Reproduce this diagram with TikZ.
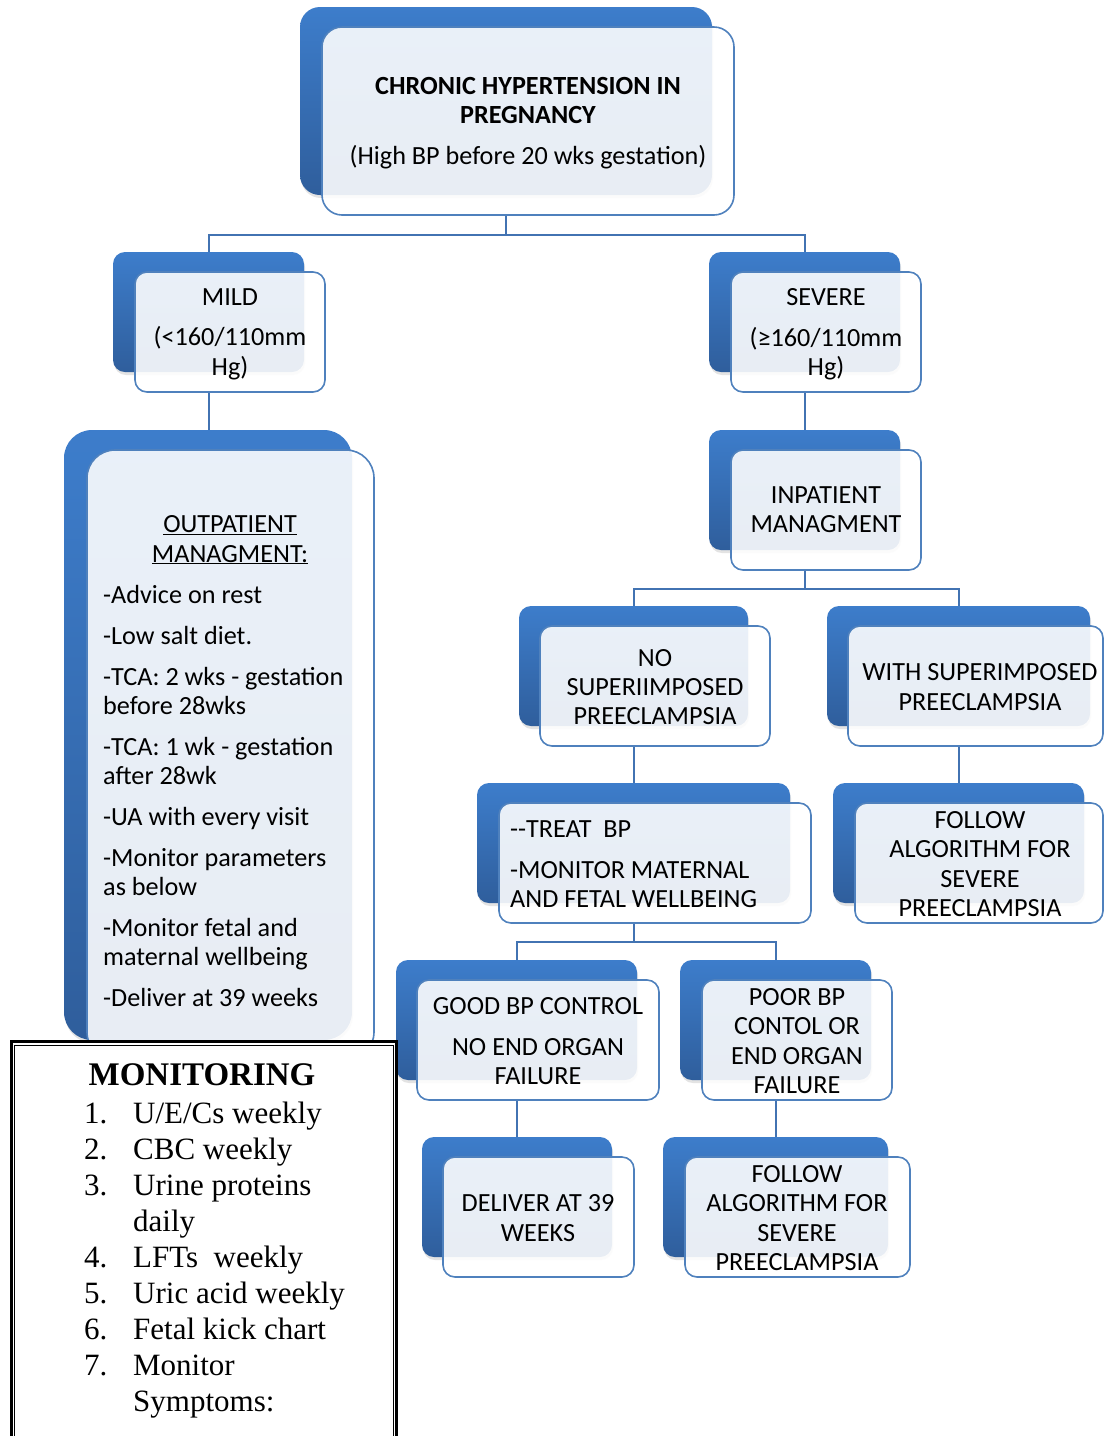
\documentclass[tikz,border=0pt]{standalone}
\usepackage{fontspec}
\setmainfont{Carlito}
\newfontfamily\monfont{Liberation Serif}
\usetikzlibrary{shadows,calc}
\definecolor{bluetop}{HTML}{3D7DCB}
\definecolor{bluebot}{HTML}{2F5E9C}
\definecolor{edgeblue}{HTML}{4F81BD}
\definecolor{linkblue}{HTML}{4273B2}
\pgfdeclarelayer{bg}
\pgfsetlayers{bg,main}
\def\rad{12}
\tikzset{
  backbox/.style={rectangle, rounded corners=\rad pt, top color=bluetop, bottom color=bluebot, draw=none, inner sep=0pt,
    drop shadow={opacity=0.22, shadow xshift=1pt, shadow yshift=-3pt}},
  frontbox/.style={rectangle, rounded corners=\rad pt, draw=edgeblue, line width=1.6pt, fill=white, fill opacity=0.89, inner sep=0pt},
  txt/.style={font=\fontsize{26.2}{29.3}\selectfont, align=center, inner sep=0pt, text=black},
  conn/.style={draw=linkblue, line width=2pt},
}
\newcommand\accbox[9]{%
  \pgfmathsetmacro\bcx{(#2+#4)/2}\pgfmathsetmacro\bcy{(#3+#5)/2}%
  \pgfmathsetmacro\bw{#4-#2}\pgfmathsetmacro\bh{#5-#3}%
  \pgfmathsetmacro\fcx{(#6+#8)/2}\pgfmathsetmacro\fcy{(#7+#9)/2}%
  \pgfmathsetmacro\fw{#8-#6}\pgfmathsetmacro\fh{#9-#7}%
  \node[backbox, minimum width=\bw pt, minimum height=\bh pt] (#1b) at (\bcx,\bcy) {};
  \node[frontbox, minimum width=\fw pt, minimum height=\fh pt] (#1) at (\fcx,\fcy) {};
}
\begin{document}
\begin{tikzpicture}[x=1pt,y=-1pt]
\useasboundingbox (0,0) rectangle (1104,1436);
\clip (0,0) rectangle (1104,1436);

% boxes
\def\rad{20}
\accbox{top}{300}{7}{712}{195}{322}{27}{734}{215}
\def\rad{12}
\accbox{mild}{113}{252}{304}{372}{135}{272}{325}{392}
\accbox{sev}{709}{252}{900}{372}{731}{272}{921}{392}
\def\rad{28}
\accbox{out}{64}{430}{352}{1040}{87}{450}{374}{1060}
\def\rad{12}
\accbox{inp}{709}{430}{900}{550}{731}{450}{921}{570}
\accbox{nos}{519}{606}{748}{726}{540}{626}{770}{746}
\accbox{wit}{827}{606}{1090}{726}{848}{626}{1103}{746}
\accbox{tre}{477}{783}{790}{903}{499}{803}{811}{923}
\accbox{fo1}{833}{783}{1084}{903}{855}{803}{1103}{923}
\accbox{goo}{396}{960}{637}{1080}{417}{980}{659}{1100}
\accbox{poo}{680}{960}{871}{1080}{702}{980}{892}{1100}
\accbox{del}{422}{1137}{612}{1257}{443}{1157}{634}{1277}
\accbox{fo2}{663}{1137}{888}{1257}{685}{1157}{910}{1277}

% texts
\node[txt] (topt) at (528,123) {\textbf{CHRONIC HYPERTENSION IN}\\\textbf{PREGNANCY}\\[11.5pt](High BP before 20 wks gestation)};
\node[txt] (mildt) at (230,334) {MILD\\[11.5pt](<160/110mm\\Hg)};
\node[txt] (sevt) at (826,334) {SEVERE\\[11.5pt](≥160/110mm\\Hg)};
\node[txt] (outh) at (230,540) {\underline{OUTPATIENT}\\\underline{MANAGMENT:}};
\node[txt, align=left, anchor=west] (outl) at (103,796) {-Advice on rest\\[11.5pt]-Low salt diet.\\[11.5pt]-TCA: 2 wks - gestation\\before 28wks\\[11.5pt]-TCA: 1 wk - gestation\\after 28wk\\[11.5pt]-UA with every visit\\[11.5pt]-Monitor parameters\\as below\\[11.5pt]-Monitor fetal and\\maternal wellbeing\\[11.5pt]-Deliver at 39 weeks};
\node[txt] (inpt) at (826,510) {INPATIENT\\MANAGMENT};
\node[txt] (nost) at (655,687) {NO\\SUPERIIMPOSED\\PREECLAMPSIA};
\node[txt] (witt) at (980,687) {WITH SUPERIMPOSED\\PREECLAMPSIA};
\node[txt, align=left, anchor=west] (tret) at (510,864) {-{}-TREAT\ \ BP\\[11.5pt]-MONITOR MATERNAL\\AND FETAL WELLBEING};
\node[txt] (fo1t) at (980,864) {FOLLOW\\ALGORITHM FOR\\SEVERE\\PREECLAMPSIA};
\node[txt] (goot) at (538,1041) {GOOD BP CONTROL\\[11.5pt]NO END ORGAN\\FAILURE};
\node[txt] (poot) at (797,1041) {POOR BP\\CONTOL OR\\END ORGAN\\FAILURE};
\node[txt] (delt) at (538,1218) {DELIVER AT 39\\WEEKS};
\node[txt] (fo2t) at (797,1218) {FOLLOW\\ALGORITHM FOR\\SEVERE\\PREECLAMPSIA};

% connectors (behind the boxes)
\begin{pgfonlayer}{bg}
\fill[white] (0,0) rectangle (1104,1436);
\coordinate (j1) at ($(topb.south |- top.south)+(0,19)$);
\draw[conn] (topb.south |- top.south) -- (j1) -| (mildb.north);
\draw[conn] (j1) -| (sevb.north);
\draw[conn] (mildb.south |- mild.south) -- (mildb.south |- outb.north);
\draw[conn] (sevb.south |- sev.south) -- (inpb.north);
\coordinate (j2) at ($(inpb.south |- inp.south)+(0,18)$);
\draw[conn] (inpb.south |- inp.south) -- (j2) -| (nosb.north);
\draw[conn] (j2) -| (witb.north);
\draw[conn] (nosb.south |- nos.south) -- (treb.north);
\draw[conn] (witb.south |- wit.south) -- (fo1b.north);
\coordinate (j3) at ($(treb.south |- tre.south)+(0,18)$);
\draw[conn] (treb.south |- tre.south) -- (j3) -| (goob.north);
\draw[conn] (j3) -| (poob.north);
\draw[conn] (goob.south |- goo.south) -- (goob.south |- delb.north);
\draw[conn] (poob.south |- poo.south) -- (fo2b.north);
\end{pgfonlayer}

% monitoring box
\node[draw=black, fill=white, line width=3pt, minimum width=385pt, minimum height=460pt, inner sep=0pt] (mon) at (204,1271.5) {};
\draw[line width=1.1pt] ($(mon.north west)+(4.5,5.5)$) rectangle ($(mon.south east)+(-4.5,-5.5)$);
\node[font=\monfont\bfseries\fontsize{33}{36}\selectfont, inner sep=0pt] (monh) at (202,1075) {MONITORING};
\node[font=\monfont\fontsize{31}{36}\selectfont, inner sep=0pt, anchor=north west] (monl) at (84,1098) {%
\begin{tabular}{@{}p{49pt}@{}l@{}}
1. & U/E/Cs weekly\\
2. & CBC weekly\\
3. & Urine proteins\\
   & daily\\
4. & LFTs\ \ weekly\\
5. & Uric acid weekly\\
6. & Fetal kick chart\\
7. & Monitor\\
   & Symptoms:
\end{tabular}};
\end{tikzpicture}
\end{document}
